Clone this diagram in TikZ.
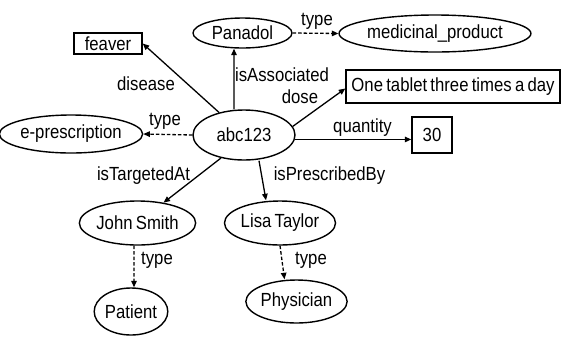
\documentclass[tikz,border=0pt]{standalone}
\usepackage{fontspec}
\setmainfont{Liberation Sans}[FakeStretch=0.88,WordSpace=0.7]
\usetikzlibrary{shapes.geometric,arrows.meta}

\tikzset{
  res/.style={ellipse, draw, line width=1.4bp, inner sep=0pt,
              minimum width=#1},
  lit/.style={rectangle, draw, line width=1.4bp, inner sep=0pt},
  rel/.style={line width=1.3bp, -{Triangle[length=6.5bp,width=5.5bp]}},
  isa/.style={rel, dash pattern=on 3.5bp off 2bp},
  lbl/.style={inner sep=0pt}
}

\begin{document}
\begin{tikzpicture}[x=1bp,y=-1bp,font=\fontsize{19bp}{22bp}\selectfont]
\useasboundingbox (0,0) rectangle (562,336);

% resources (ellipses) and literals (boxes)
\node[res=102bp, minimum height=50bp] (abc) at (244,135) {abc123};
\node[res=99bp,  minimum height=30bp] (pan) at (242.5,33) {Panadol};
\node[res=171bp, minimum height=37bp] (med) at (435,33.5) {medicinal\_product};
\node[res=122bp, minimum height=38bp] (epr) at (71,134) {e-prescription};
\node[res=101bp, minimum height=44bp] (js)  at (137.5,223) {John Smith};
\node[res=106bp, minimum height=44bp] (lt)  at (280,223) {Lisa Taylor};
\node[res=72bp,  minimum height=47bp] (pat) at (131,311.5) {Patient};
\node[res=99bp,  minimum height=43bp] (phy) at (296.5,301.5) {Physician};

\node[lit, minimum width=68bp,  minimum height=21bp] (fev) at (108,43.5) {feaver};
\node[lit, minimum width=214bp, minimum height=33bp] (dose) at (453,86.5) {One tablet three times a day};
\node[lit, minimum width=40bp,  minimum height=36bp] (qty) at (432,135) {30};

% properties
\draw[rel] (abc) -- (fev.east);
\draw[rel] ([xshift=-10bp]abc.north) -- ([xshift=-8.5bp]pan.south);
\draw[rel] (abc.10) -- ([yshift=-2bp]dose.west);
\draw[rel] (abc.-5) -- (abc.-5 -| qty.west);
\draw[rel] (abc.225) -- (js.38);
\draw[rel] ([xshift=15bp]abc.south) -- ([xshift=-14bp]lt.north);

% rdf:type links
\draw[isa] (abc.west) -- (epr.east);
\draw[isa] (pan.east) -- (med.west);
\draw[isa] ([xshift=-3.5bp]js.south) -- ([xshift=3bp]pat.north);
\draw[isa] (lt.south) -- ([xshift=-12bp]phy.north);

% edge labels
\node[lbl] (l1) at (146,84) {disease};
\node[lbl] (l2) at (165,121) {type};
\node[lbl] (l3) at (282,74.5) {isAssociated};
\node[lbl] (l4) at (300,97) {dose};
\node[lbl] (l5) at (362.5,128) {quantity};
\node[lbl] (l6) at (317,21) {type};
\node[lbl] (l7) at (143.5,176) {isTargetedAt};
\node[lbl] (l8) at (329.5,176) {isPrescribedBy};
\node[lbl] (l9) at (157,260) {type};
\node[lbl] (l10) at (311,260) {type};
\end{tikzpicture}
\end{document}
